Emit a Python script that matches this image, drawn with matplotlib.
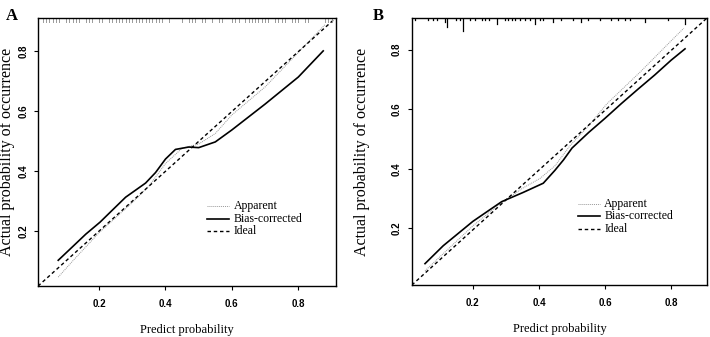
import matplotlib
matplotlib.use('Agg')
import matplotlib.pyplot as plt

# panel A: calibration curves
a_bias_x = [0.077, 0.12, 0.16, 0.203, 0.24, 0.28, 0.34, 0.37, 0.40, 0.43, 0.47, 0.50, 0.55, 0.60, 0.70, 0.80, 0.875]
a_bias_y = [0.103, 0.148, 0.19, 0.23, 0.27, 0.313, 0.36, 0.395, 0.44, 0.472, 0.48, 0.478, 0.497, 0.537, 0.623, 0.713, 0.80]
a_app_x = [0.077, 0.12, 0.20, 0.30, 0.35, 0.40, 0.45, 0.50, 0.55, 0.60, 0.70, 0.80, 0.88]
a_app_y = [0.047, 0.10, 0.195, 0.295, 0.35, 0.425, 0.476, 0.49, 0.525, 0.587, 0.68, 0.795, 0.887]
# predicted values shown as rug on top of panel A
a_rug = [0.03, 0.04, 0.05, 0.06, 0.07, 0.08, 0.10, 0.11, 0.12, 0.13, 0.14, 0.16, 0.17, 0.18,
         0.20, 0.21, 0.23, 0.24, 0.25, 0.26, 0.27, 0.28, 0.29, 0.30, 0.31, 0.32, 0.33, 0.34,
         0.35, 0.36, 0.37, 0.38, 0.39, 0.41, 0.45, 0.47, 0.48, 0.49, 0.51, 0.52, 0.54, 0.56,
         0.57, 0.60, 0.61, 0.62, 0.64, 0.65, 0.66, 0.67, 0.68, 0.69, 0.70, 0.71, 0.73, 0.74,
         0.75, 0.76, 0.78, 0.79, 0.80, 0.82, 0.83, 0.88, 0.89, 0.90]

# panel B
b_bias_x = [0.055, 0.11, 0.20, 0.25, 0.287, 0.352, 0.413, 0.448, 0.474, 0.50, 0.55, 0.60, 0.65, 0.70, 0.75, 0.80, 0.842]
b_bias_y = [0.082, 0.142, 0.224, 0.262, 0.29, 0.321, 0.352, 0.395, 0.43, 0.47, 0.522, 0.57, 0.62, 0.668, 0.715, 0.765, 0.803]
b_app_x = [0.055, 0.10, 0.20, 0.282, 0.35, 0.403, 0.448, 0.494, 0.55, 0.605, 0.706, 0.80, 0.838]
b_app_y = [0.058, 0.105, 0.209, 0.283, 0.335, 0.368, 0.41, 0.478, 0.545, 0.618, 0.725, 0.83, 0.872]
# spike histogram of predictions on top of panel B (position, count)
b_rug = [0.024, 0.065, 0.08, 0.09, 0.115, 0.122, 0.15, 0.16, 0.169, 0.19, 0.206, 0.226,
         0.236, 0.25, 0.272, 0.297, 0.307, 0.317, 0.327, 0.342, 0.357, 0.373, 0.388, 0.403,
         0.413, 0.443, 0.468, 0.503, 0.528, 0.548, 0.584, 0.619, 0.639, 0.66, 0.675, 0.72,
         0.791, 0.841]
b_rug_n = [1, 1, 1, 1, 2, 4, 1, 1, 6, 1, 1, 1,
           1, 1, 3, 1, 1, 1, 1, 1, 1, 1, 3, 1,
           1, 2, 1, 1, 2, 1, 1, 1, 1, 1, 1, 2,
           1, 3]

legend_labels = ['Apparent', 'Bias-corrected', 'Ideal']
xticks = [0.2, 0.4, 0.6, 0.8]
yticks = [0.2, 0.4, 0.6, 0.8]

serif = 'Liberation Serif'
sans = 'Liberation Sans'

fig = plt.figure(figsize=(7.1, 3.37), dpi=100)


def panel(rect, lim_x, lim_y, bias_x, bias_y, app_x, app_y, letter, letter_x, leg_xy, ylab_x):
    ax = fig.add_axes(rect)
    ax.plot(app_x, app_y, color='#999999', lw=0.7, ls=(0, (1, 1)))
    ax.plot(bias_x, bias_y, color='black', lw=1.2)
    ax.plot(lim_x, lim_y, color='black', lw=1.0, ls=(0, (2.5, 2)))
    ax.set_xlim(lim_x)
    ax.set_ylim(lim_y)
    ax.set_xticks(xticks)
    ax.set_yticks(yticks)
    ax.set_xticklabels(['%.1f' % t for t in xticks], fontfamily=sans, fontweight='bold', fontsize=7)
    ax.set_yticklabels(['%.1f' % t for t in yticks], fontfamily=sans, fontweight='bold', fontsize=7,
                       rotation=90, va='center')
    ax.tick_params(axis='x', length=3, width=0.8, pad=6)
    ax.tick_params(axis='y', length=3, width=0.8, pad=4)
    for s in ax.spines.values():
        s.set_linewidth(1.0)
    ax.set_xlabel('Predict probability', fontfamily=serif, fontsize=9)
    ax.set_ylabel('Actual probability of occurrence', fontfamily=serif, fontsize=11.5)
    ax.xaxis.set_label_coords(0.5, -0.142)
    ax.yaxis.set_label_coords(ylab_x, 0.5)
    fig.text(letter_x, 0.975, letter, fontfamily=serif, fontweight='bold', fontsize=12, va='top')

    # legend drawn by hand without frame, like base R
    lx, ly = leg_xy
    styles = [dict(color='#999999', lw=0.7, ls=(0, (1, 1))),
              dict(color='black', lw=1.2),
              dict(color='black', lw=1.0, ls=(0, (2.5, 2)))]
    for i, (lab, st) in enumerate(zip(legend_labels, styles)):
        yy = ly - i * 0.048
        ax.plot([lx, lx + 0.075], [yy, yy], transform=ax.transAxes, **st)
        ax.text(lx + 0.09, yy, lab, transform=ax.transAxes, fontfamily=serif,
                fontsize=8.5, va='center')
    return ax


axA = panel([0.0535, 0.151, 0.4195, 0.796], (0.016, 0.913), (0.017, 0.91),
            a_bias_x, a_bias_y, a_app_x, a_app_y, 'A', 0.008, (0.568, 0.30), -0.078)
axB = panel([0.580, 0.154, 0.416, 0.793], (0.015, 0.909), (0.01, 0.907),
            b_bias_x, b_bias_y, b_app_x, b_app_y, 'B', 0.525, (0.562, 0.305), -0.14)

# rugs along the top edge
hA = 4 / 267
for p in a_rug:
    axA.plot([p, p], [1, 1 - hA], transform=axA.get_xaxis_transform(), color='#9a9a9a', lw=0.7)
unit = 2.2 / 267
for p, n in zip(b_rug, b_rug_n):
    axB.plot([p, p], [1, 1 - unit * n], transform=axB.get_xaxis_transform(), color='black', lw=0.9)

fig.savefig('out.png', dpi=100)
